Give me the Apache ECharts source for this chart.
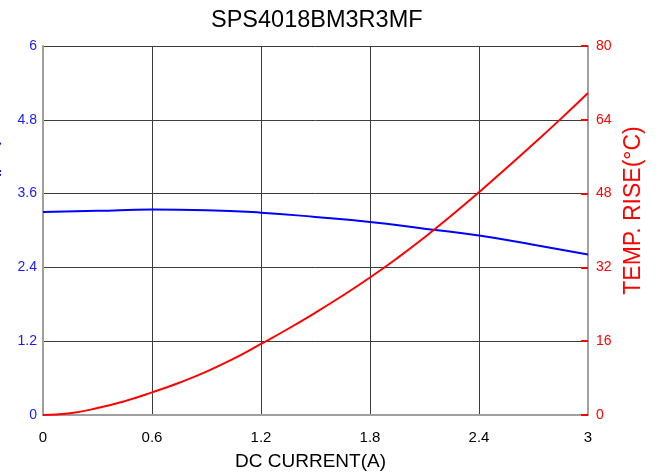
<!DOCTYPE html>
<html>
<head>
<meta charset="utf-8">
<script src="https://cdn.jsdelivr.net/npm/echarts@6/dist/echarts.min.js"></script>
<style>
  html, body { margin: 0; padding: 0; background: #fff; }
  #main { width: 658px; height: 475px; }
</style>
</head>
<body>
<div id="main"></div>
<script>
// values
var indCurrent = [0, 0.3, 0.6, 0.9, 1.2, 1.5, 1.8, 2.1, 2.4, 2.7, 3.0];
var inductance = [3.30, 3.32, 3.34, 3.33, 3.29, 3.22, 3.14, 3.03, 2.92, 2.77, 2.61];

var tempCurrent = [0, 0.15, 0.3, 0.45, 0.6, 0.75, 0.9, 1.05, 1.2, 1.35, 1.5,
                   1.65, 1.8, 1.95, 2.1, 2.25, 2.4, 2.55, 2.7, 2.85, 3.0];
var tempRise = [0, 0.4, 1.5, 3.0, 4.9, 7.0, 9.4, 12.2, 15.4, 18.7, 22.2,
                25.9, 29.8, 34.0, 38.5, 43.3, 48.3, 53.5, 58.8, 64.2, 69.8];

function pairs(xs, ys) {
    var out = [];
    for (var i = 0; i < xs.length; i++) {
        out.push([xs[i], ys[i]]);
    }
    return out;
}

var font = 'Arial, "Liberation Sans", sans-serif';
var gridColor = '#3c3c3c';
var axisColor = '#a0a0a0';

var chart = echarts.init(document.getElementById('main'));
chart.setOption({
    animation: false,
    title: {
        text: 'SPS4018BM3R3MF',
        left: 206,
        top: 4,
        textStyle: { fontFamily: font, fontSize: 23.5, fontWeight: 'normal', color: '#000' }
    },
    grid: { left: 43, right: 70, top: 46, bottom: 60, outerBoundsMode: 'none' },
    xAxis: {
        type: 'value',
        min: 0,
        max: 3,
        interval: 0.6,
        name: 'DC CURRENT(A)',
        nameLocation: 'middle',
        nameGap: 37,
        nameTextStyle: { fontFamily: font, fontSize: 19, color: '#000', padding: [0, 10, 0, 0] },
        axisLine: { show: true, lineStyle: { color: axisColor, width: 2 } },
        axisTick: { show: false },
        axisLabel: { fontFamily: font, fontSize: 15, color: '#000', margin: 15 },
        splitLine: { show: true, lineStyle: { color: gridColor, width: 1 } }
    },
    yAxis: [
        {
            type: 'value',
            position: 'left',
            min: 0,
            max: 6,
            interval: 1.2,
            name: 'INDUCTANCE(µH)',
            nameLocation: 'middle',
            nameGap: 42,
            nameTextStyle: { fontFamily: font, fontSize: 22, color: '#0000ff' },
            axisLine: { show: true, lineStyle: { color: axisColor, width: 2 } },
            axisTick: { show: false },
            axisLabel: { fontFamily: font, fontSize: 14, color: '#1a1aff', margin: 6 },
            splitLine: { show: true, lineStyle: { color: gridColor, width: 1 } }
        },
        {
            type: 'value',
            position: 'right',
            min: 0,
            max: 80,
            interval: 16,
            name: 'TEMP. RISE(°C)',
            nameLocation: 'middle',
            nameGap: 31,
            nameTextStyle: { fontFamily: font, fontSize: 23, color: '#ff0000', padding: [0, 0, 0, 40] },
            axisLine: { show: true, lineStyle: { color: axisColor, width: 2 } },
            axisTick: { show: true, inside: true, length: 7, lineStyle: { color: '#ff0000', width: 2 } },
            axisLabel: { fontFamily: font, fontSize: 14, color: '#ff0000', margin: 8 },
            splitLine: { show: false }
        }
    ],
    series: [
        {
            name: 'Inductance',
            type: 'line',
            yAxisIndex: 0,
            smooth: true,
            showSymbol: false,
            data: pairs(indCurrent, inductance),
            lineStyle: { color: '#0000ff', width: 2 },
            z: 3
        },
        {
            name: 'Temp rise',
            type: 'line',
            yAxisIndex: 1,
            smooth: true,
            showSymbol: false,
            data: pairs(tempCurrent, tempRise),
            lineStyle: { color: '#ff0000', width: 2 },
            z: 4
        }
    ]
});
</script>
</body>
</html>
